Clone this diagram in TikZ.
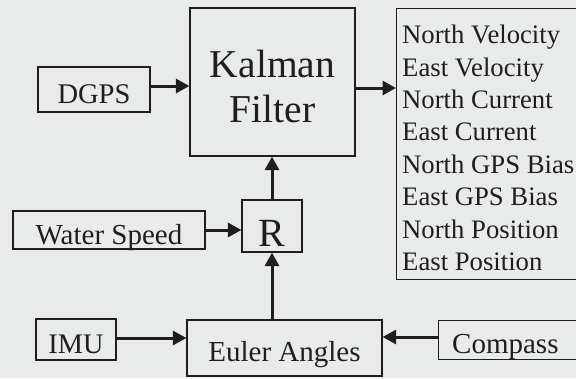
\documentclass[tikz,border=0pt]{standalone}
\usepackage{fontspec}
\setmainfont{Liberation Serif}
\usetikzlibrary{arrows.meta,calc}
\definecolor{bg}{RGB}{233,235,234}
\definecolor{ink}{RGB}{30,30,30}
\tikzset{
  blk/.style={draw=ink, line width=1.2pt, inner sep=0pt, text=ink},
  lbl/.style={text=ink, inner sep=0pt},
  arr/.style={draw=ink, line width=3pt, -{Triangle[length=13.5pt,width=14pt]}},
}
\begin{document}
\begin{tikzpicture}[x=1pt,y=-1pt]
\fill[bg] (0,0) rectangle (576,378);
\clip (0,0) rectangle (576,378);
\node[blk, minimum width=165, minimum height=148] (kf) at (272.5,82) {};
\node[lbl, anchor=north, align=center, font=\fontsize{39.5}{45}\selectfont] (kftxt) at (272.5,49.7) {Kalman\\Filter};
\node[blk, minimum width=112, minimum height=45, font=\fontsize{28.5}{30}\selectfont,
      text height=28pt, text depth=0.4pt] (dgps) at (94,89.5) {DGPS};
\node[blk, minimum width=200, minimum height=271, anchor=north west] (out) at (396,8) {};
\node[lbl, anchor=north west, align=left,
      font=\fontsize{26.7}{32.4}\selectfont] (outtxt) at (402,25)
  {North Velocity\\East Velocity\\North Current\\East Current\\North GPS Bias\\East GPS Bias\\North Position\\East Position};
\node[blk, minimum width=60, minimum height=52, font=\fontsize{40}{42}\selectfont,
      text height=42pt, text depth=0.6pt] (r) at (272,226) {R};
\node[blk, minimum width=192, minimum height=38, font=\fontsize{29}{30}\selectfont,
      text height=29pt, text depth=1pt] (water) at (109,230) {Water Speed};
\node[blk, minimum width=80, minimum height=41, font=\fontsize{28.3}{30}\selectfont,
      text height=28pt, text depth=0.4pt] (imu) at (76,339.5) {IMU};
\node[blk, minimum width=195, minimum height=56, font=\fontsize{29}{30}\selectfont,
      text height=31pt, text depth=3.6pt] (euler) at (284.5,348) {Euler Angles};
\node[blk, minimum width=160, minimum height=39, anchor=north west] (compass) at (438,320) {};
\node[lbl, anchor=base west, font=\fontsize{29}{30}\selectfont] (comptxt) at (452,353) {Compass};
\draw[arr] (dgps.east |- 0,86) -- (kf.west |- 0,86);
\draw[arr] (kf.east |- 0,88) -- (out.west |- 0,88);
\draw[arr] (r.north) -- (kf.south -| r.north);
\draw[arr] (water.east) -- (r.west |- water.east);
\draw[arr] (imu.east |- 0,338) -- (euler.west |- 0,338);
\draw[arr] (euler.north -| r.south) -- (r.south);
\draw[arr] (compass.west |- 0,337) -- (euler.east |- 0,337);
\end{tikzpicture}
\end{document}
